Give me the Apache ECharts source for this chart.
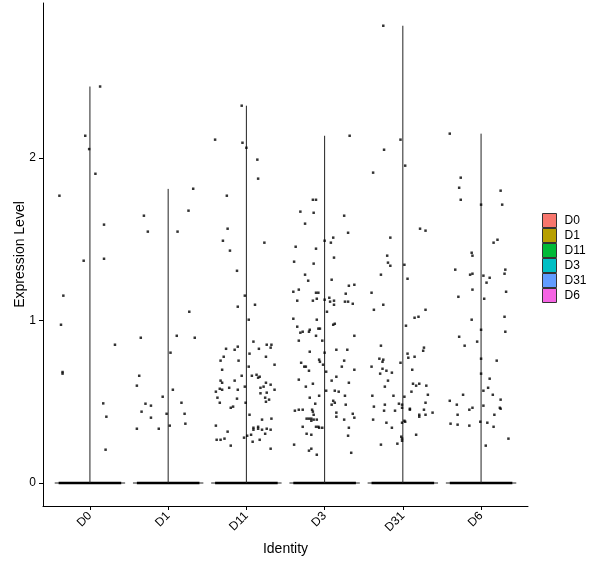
<!DOCTYPE html>
<html>
<head>
<meta charset="utf-8">
<script src="https://cdn.jsdelivr.net/npm/echarts@6/dist/echarts.min.js"></script>
<style>
  html, body { margin: 0; padding: 0; background: #fff; }
  #chart { width: 600px; height: 568px; }
</style>
</head>
<body>
<div id="chart"></div>
<script>
// groups and their fill colours (ggplot default hues)
var categories = ['D0', 'D1', 'D11', 'D3', 'D31', 'D6'];
var fills = ['#F8766D', '#B79F00', '#00BA38', '#00BFC4', '#619CFF', '#F564E3'];

// top of each (collapsed) violin = max expression in the group
var violinTop = [2.44, 1.81, 2.322, 2.137, 2.814, 2.15];

// y tick values
var yTicks = [0, 1, 2];

// non-zero cells: [horizontal jitter offset, expression]
var pointsD0 = [
  [0.13, 2.44], [-0.06, 2.137], [-0.01, 2.055], [0.07, 1.903], [-0.39, 1.768],
  [0.18, 1.59], [-0.08, 1.368], [0.18, 1.38], [-0.34, 1.153], [-0.37, 0.974],
  [0.32, 0.851], [-0.35, 0.683], [-0.35, 0.673], [0.17, 0.49], [0.21, 0.408],
  [0.20, 0.205]
];
var pointsD1 = [
  [0.32, 1.811], [0.26, 1.676], [-0.31, 1.645], [-0.26, 1.547], [0.12, 1.547],
  [0.27, 1.054], [-0.35, 0.894], [0.11, 0.906], [0.34, 0.894], [0.03, 0.802],
  [-0.37, 0.66], [-0.40, 0.599], [0.06, 0.574], [-0.07, 0.531], [-0.29, 0.488],
  [-0.22, 0.476], [0.17, 0.494], [-0.34, 0.439], [-0.02, 0.426], [0.21, 0.426],
  [-0.22, 0.402], [0.22, 0.365], [-0.40, 0.334], [-0.12, 0.334], [0.02, 0.353]
];
var pointsD11 = [
  [-0.06, 2.322], [-0.40, 2.113], [-0.05, 2.094], [0.00, 2.063], [0.14, 1.99],
  [0.15, 1.873], [-0.25, 1.768], [-0.24, 1.565], [-0.30, 1.491], [0.23, 1.479],
  [-0.21, 1.43], [-0.12, 1.306], [-0.02, 1.153], [0.11, 1.097], [-0.11, 1.085],
  [0.03, 1.005],
  [0.09, 0.87], [0.26, 0.851], [0.32, 0.851], [-0.11, 0.839], [-0.26, 0.826],
  [-0.15, 0.82], [0.16, 0.826], [0.31, 0.833], [0.04, 0.796], [-0.29, 0.777],
  [0.25, 0.777], [-0.33, 0.753], [-0.10, 0.753], [0.36, 0.728], [0.03, 0.716],
  [-0.31, 0.697], [-0.06, 0.66], [0.07, 0.66], [0.13, 0.666], [0.15, 0.648],
  [0.17, 0.654], [-0.33, 0.63], [-0.31, 0.617], [-0.15, 0.63], [0.25, 0.617],
  [0.31, 0.605], [-0.22, 0.586], [-0.02, 0.593], [0.18, 0.586], [0.22, 0.593],
  [-0.34, 0.58], [-0.31, 0.574], [-0.11, 0.574], [0.36, 0.574], [-0.39, 0.562],
  [0.18, 0.552], [0.26, 0.556], [-0.37, 0.525], [-0.12, 0.519], [0.24, 0.525],
  [0.29, 0.513], [0.25, 0.50], [-0.34, 0.494], [-0.01, 0.494], [-0.17, 0.47],
  [-0.20, 0.463], [0.04, 0.42], [0.20, 0.39], [0.32, 0.396], [-0.39, 0.353],
  [0.09, 0.34], [0.09, 0.328], [0.15, 0.346], [0.15, 0.334], [0.20, 0.328],
  [0.26, 0.334], [0.31, 0.328], [-0.24, 0.316], [0.06, 0.297], [0.24, 0.303],
  [0.01, 0.291], [-0.03, 0.279], [-0.28, 0.273], [-0.38, 0.266], [-0.33, 0.266],
  [0.17, 0.266], [0.08, 0.254], [-0.20, 0.23], [0.31, 0.211]
];
var pointsD3 = [
  [0.32, 2.137], [-0.15, 1.743], [-0.11, 1.743], [-0.31, 1.67], [-0.14, 1.663],
  [0.25, 1.645], [-0.25, 1.596], [0.30, 1.54], [0.11, 1.51], [0.00, 1.491],
  [0.08, 1.479], [-0.37, 1.454], [-0.11, 1.442], [0.12, 1.387], [-0.39, 1.362],
  [-0.14, 1.35], [-0.25, 1.282], [-0.21, 1.245], [0.09, 1.251], [0.31, 1.214],
  [0.38, 1.22], [-0.40, 1.177], [-0.33, 1.19], [-0.11, 1.171], [-0.08, 1.171],
  [0.27, 1.165], [-0.10, 1.134], [0.06, 1.14],
  [-0.35, 1.122], [-0.15, 1.122], [0.00, 1.128], [0.07, 1.116], [0.12, 1.122],
  [0.12, 1.097], [0.26, 1.116], [0.30, 1.116], [0.36, 1.103], [0.03, 1.054],
  [-0.40, 1.011], [-0.10, 1.005], [0.11, 0.974], [0.13, 0.98], [-0.35, 0.962],
  [-0.08, 0.95], [-0.06, 0.95], [-0.19, 0.943], [-0.28, 0.931], [-0.31, 0.925],
  [-0.20, 0.931], [-0.11, 0.906], [0.38, 0.906], [-0.33, 0.876], [-0.03, 0.876],
  [0.15, 0.82], [0.29, 0.82], [-0.19, 0.808], [0.00, 0.802], [-0.07, 0.759],
  [-0.06, 0.746], [0.25, 0.753], [-0.30, 0.74], [-0.02, 0.728], [-0.26, 0.716],
  [-0.24, 0.716], [0.22, 0.716], [0.38, 0.697], [-0.20, 0.691], [0.02, 0.685],
  [0.15, 0.654], [-0.33, 0.636], [0.09, 0.63], [-0.15, 0.611], [0.31, 0.617],
  [-0.24, 0.593], [0.02, 0.568], [0.13, 0.568], [0.18, 0.562], [-0.07, 0.537],
  [0.26, 0.537], [-0.19, 0.525], [0.11, 0.506], [0.13, 0.494], [-0.12, 0.488],
  [0.09, 0.482], [0.27, 0.482], [-0.38, 0.445], [-0.33, 0.451], [-0.28, 0.451],
  [-0.16, 0.451], [-0.15, 0.439], [0.15, 0.433], [0.36, 0.426], [-0.14, 0.42],
  [0.15, 0.408], [0.38, 0.402], [-0.23, 0.396], [-0.20, 0.396], [-0.17, 0.396],
  [-0.14, 0.39], [-0.10, 0.39], [0.25, 0.39], [-0.17, 0.383], [-0.28, 0.346],
  [-0.11, 0.346], [-0.08, 0.346], [-0.07, 0.34], [-0.03, 0.34], [0.31, 0.34],
  [-0.23, 0.303], [-0.17, 0.297], [0.30, 0.291], [-0.39, 0.236], [-0.17, 0.211],
  [-0.20, 0.199], [-0.10, 0.174], [0.34, 0.186]
];
var pointsD31 = [
  [-0.25, 2.814], [-0.03, 2.113], [-0.24, 2.051], [0.03, 1.953], [-0.38, 1.91],
  [0.22, 1.565], [0.29, 1.553], [-0.16, 1.51], [-0.20, 1.399], [-0.19, 1.356],
  [-0.16, 1.337], [0.02, 1.343], [-0.28, 1.282], [0.06, 1.257], [-0.40, 1.171],
  [-0.25, 1.097], [-0.37, 1.066], [0.29, 1.066], [0.15, 1.017], [0.20, 1.023],
  [0.04, 0.968], [-0.28, 0.845], [0.27, 0.833], [0.26, 0.814], [0.06, 0.796],
  [0.07, 0.771], [0.15, 0.777], [-0.30, 0.765], [-0.25, 0.759], [-0.26, 0.746],
  [-0.03, 0.74], [-0.40, 0.716], [-0.26, 0.703], [-0.21, 0.691], [0.12, 0.697],
  [-0.29, 0.673], [-0.14, 0.679], [-0.19, 0.63], [0.13, 0.611], [0.17, 0.599],
  [0.21, 0.611], [0.30, 0.599], [-0.23, 0.593], [0.11, 0.562], [0.32, 0.543],
  [-0.39, 0.537], [-0.12, 0.537], [0.02, 0.531], [0.29, 0.494], [-0.23, 0.482],
  [-0.05, 0.488], [-0.01, 0.482], [-0.37, 0.47], [-0.01, 0.463], [0.09, 0.457],
  [0.09, 0.451], [0.27, 0.451], [-0.24, 0.445], [-0.10, 0.445], [0.38, 0.433],
  [0.21, 0.42], [0.21, 0.408], [0.29, 0.42], [-0.38, 0.39], [0.02, 0.383],
  [0.03, 0.377], [-0.01, 0.371], [-0.21, 0.371], [-0.14, 0.34], [0.17, 0.297],
  [-0.02, 0.285], [-0.01, 0.273], [-0.01, 0.26], [-0.07, 0.242], [-0.28, 0.236]
];
var pointsD6 = [
  [-0.40, 2.15], [-0.26, 1.879], [-0.28, 1.817], [0.25, 1.799], [-0.26, 1.743],
  [0.00, 1.713], [0.27, 1.713], [0.21, 1.497], [0.16, 1.479], [-0.12, 1.417],
  [-0.11, 1.399], [-0.33, 1.313], [0.31, 1.313], [0.30, 1.288], [-0.14, 1.282],
  [-0.11, 1.288], [0.03, 1.276], [0.11, 1.263], [0.07, 1.233], [-0.11, 1.19],
  [0.32, 1.177], [-0.29, 1.146], [0.04, 1.134], [0.30, 1.023], [-0.12, 1.005],
  [0.00, 0.943], [0.31, 0.931], [-0.28, 0.90], [-0.05, 0.87], [-0.21, 0.845],
  [0.00, 0.765], [0.20, 0.753], [0.00, 0.673], [0.11, 0.642], [0.09, 0.586],
  [0.03, 0.568], [-0.23, 0.543], [0.15, 0.543], [-0.40, 0.506], [0.25, 0.513],
  [-0.31, 0.482], [0.03, 0.476], [-0.11, 0.463], [-0.15, 0.451], [0.24, 0.463],
  [0.25, 0.457], [0.17, 0.42], [-0.30, 0.42], [-0.01, 0.377], [0.08, 0.371],
  [-0.39, 0.365], [-0.30, 0.359], [-0.15, 0.353], [0.16, 0.346], [0.35, 0.273],
  [0.06, 0.23]
];
var groupPoints = [pointsD0, pointsD1, pointsD11, pointsD3, pointsD31, pointsD6];

// most cells are zero: they pile up at 0 across the jitter band
var zeroJitter = 0.4;
var violinHalf = 0.45;

var font = 'Liberation Sans, Arial, sans-serif';
var chart = echarts.init(document.getElementById('chart'), null, { renderer: 'canvas' });

var series = [];
categories.forEach(function(name, i) {
  series.push({
    name: name,
    type: 'custom',
    color: fills[i],
    itemStyle: { color: fills[i] },
    z: 2,
    data: [[i + 1, violinTop[i]]],
    renderItem: function(params, api) {
      var x = api.value(0), top = api.value(1);
      var l = api.coord([x - violinHalf, 0]);
      var r = api.coord([x + violinHalf, 0]);
      var zl = api.coord([x - zeroJitter, 0]);
      var zr = api.coord([x + zeroJitter, 0]);
      var b = api.coord([x, 0]);
      var t = api.coord([x, top]);
      return {
        type: 'group',
        children: [
          { type: 'line', shape: { x1: l[0], y1: l[1], x2: r[0], y2: r[1] },
            style: { stroke: '#222', lineWidth: 1 } },
          { type: 'line', shape: { x1: zl[0], y1: zl[1], x2: zr[0], y2: zr[1] },
            style: { stroke: '#000', lineWidth: 2.6 } },
          { type: 'line', shape: { x1: b[0], y1: b[1], x2: t[0], y2: t[1] },
            style: { stroke: '#222', lineWidth: 1 } }
        ]
      };
    }
  });
});
groupPoints.forEach(function(pts, i) {
  series.push({
    type: 'scatter',
    symbol: 'rect',
    symbolSize: 2.5,
    itemStyle: { color: '#000' },
    z: 3,
    silent: true,
    data: pts.map(function(p) { return [i + 1 + p[0], p[1]]; })
  });
});

chart.setOption({
  animation: false,
  backgroundColor: '#fff',
  textStyle: { fontFamily: font },
  grid: { left: 43, right: 72, top: 3, bottom: 62, containLabel: false, outerBoundsMode: 'none' },
  legend: {
    data: categories,
    orient: 'vertical',
    left: 542,
    top: 213,
    padding: 0,
    icon: 'rect',
    itemWidth: 14,
    itemHeight: 14,
    itemGap: 0,
    itemStyle: { borderColor: '#333', borderWidth: 1 },
    textStyle: { color: '#000', fontSize: 12, lineHeight: 14, fontFamily: font, padding: [0, 0, 0, 3] },
    selectedMode: false
  },
  xAxis: {
    type: 'value',
    min: 0.4,
    max: 6.6,
    name: 'Identity',
    nameLocation: 'middle',
    nameGap: 36,
    nameMoveOverlap: false,
    nameTextStyle: { color: '#000', fontSize: 14, fontFamily: font },
    axisLine: { show: true, onZero: false, lineStyle: { color: '#000', width: 1 } },
    axisTick: { show: true, length: 4, customValues: [1, 2, 3, 4, 5, 6], lineStyle: { color: '#000' } },
    axisLabel: {
      customValues: [1, 2, 3, 4, 5, 6],
      rotate: 45,
      margin: 8,
      color: '#000',
      fontSize: 12,
      fontFamily: font,
      formatter: function(v) { return categories[Math.round(v) - 1]; }
    },
    splitLine: { show: false }
  },
  yAxis: {
    type: 'value',
    min: -0.1415,
    max: 2.954,
    name: 'Expression Level',
    nameLocation: 'middle',
    nameGap: 16,
    nameMoveOverlap: false,
    nameTextStyle: { color: '#000', fontSize: 14, fontFamily: font },
    axisLine: { show: true, onZero: false, lineStyle: { color: '#000', width: 1 } },
    axisTick: { show: true, length: 4, customValues: yTicks, lineStyle: { color: '#000' } },
    axisLabel: { customValues: yTicks, margin: 7, color: '#000', fontSize: 12, fontFamily: font },
    splitLine: { show: false }
  },
  series: series
});
window.addEventListener('resize', function() { chart.resize(); });
</script>
</body>
</html>
